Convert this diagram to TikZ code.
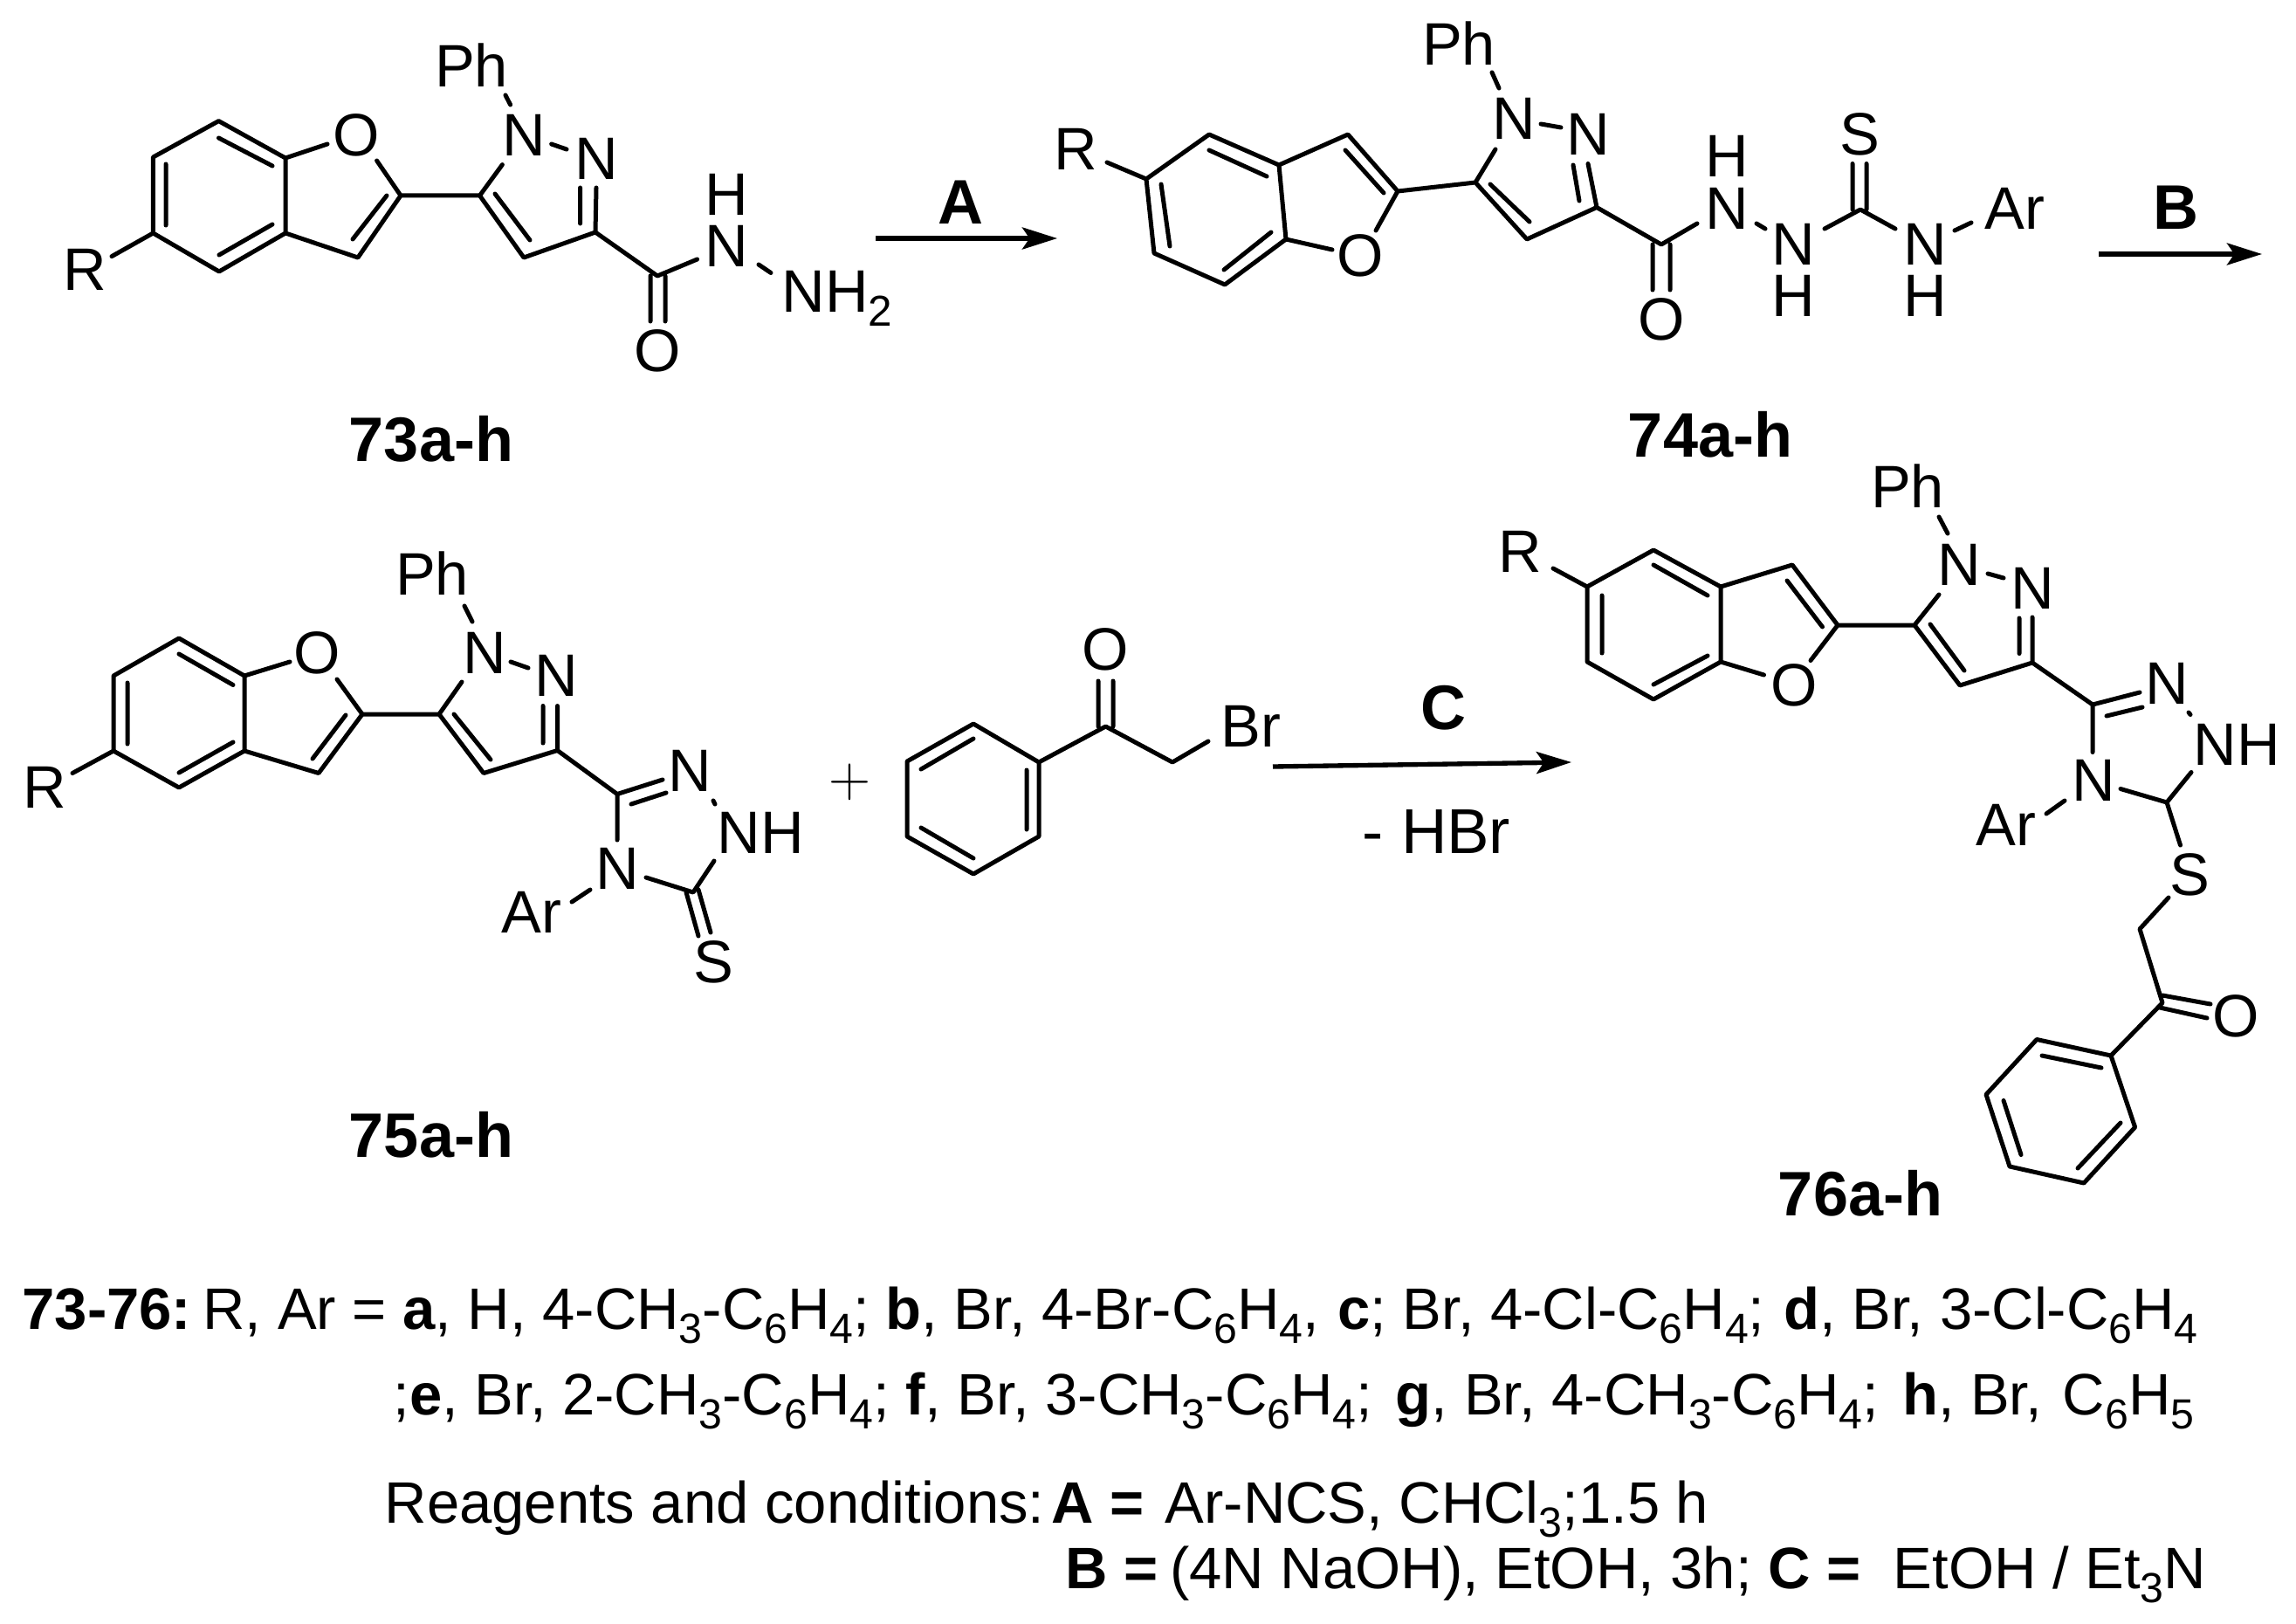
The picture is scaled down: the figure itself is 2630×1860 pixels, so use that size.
\documentclass[tikz,border=0pt]{standalone}
\usepackage{fontspec}
\usepackage{graphicx}
\setmainfont{Liberation Sans}
\newfontfamily\lmplus{Latin Modern Roman}
\usetikzlibrary{arrows.meta}
\newcommand{\sbs}[1]{\raisebox{-0.24em}{\scalebox{0.72}{#1}}}
\tikzset{
  bond/.style={line width=1.5pt,line cap=round,line join=round,black},
  rxn/.style={line width=1.6pt,-{Stealth[length=12pt,width=7.5pt,inset=2.5pt]}},
  atom/.style={inner sep=0pt,font=\fontsize{20.6}{24}\selectfont},
  atomb/.style={atom,anchor=base west},
  cmpd/.style={inner sep=0pt,font=\fontsize{21.6}{25}\selectfont\bfseries},
  cond/.style={inner sep=0pt,anchor=base west,font=\fontsize{20.1}{24}\selectfont}
}
\begin{document}
\begin{tikzpicture}[x=0.3pt,y=-0.3pt]
\useasboundingbox (0,0) rectangle (2630,1860);
% ---------- 73
\draw[bond] (250.5,138.6)--(175.4,180)--(175.4,267)--(251,311)--(327,267)--(327,181)--cycle
 (190,188)--(190,258) (250.5,158)--(312,190) (251,292)--(312,257)
 (327,181)--(375,165) (431.6,184)--(459,224)--(410,295)--(327,267)
 (443,224)--(404,274) (128,293.6)--(175.4,267)
 (459,224)--(549.5,224)--(575.4,188.6) (549.5,224)--(600,295)--(682,266)--(683,215)
 (567,222)--(607,275) (664.6,215)--(664.6,256) (631.6,165)--(649,171) (579,109)--(584.6,120)
 (682,266)--(753,316)--(798.6,297) (745,316)--(745,368) (762,316)--(762,368) (869,303)--(883,312.5);
\node[atom] (r73) at (97,309) {R};
\node[atom] (o73) at (408,155) {O};
\node[atom] (ph73) at (540,75) {Ph};
\node[atom] (n73a) at (600,155) {N};
\node[atom] (n73b) at (683,182) {N};
\node[atom] (h73) at (832,223) {H};
\node[atom] (n73c) at (832,282) {N};
\node[atom] (oc73) at (753,402) {O};
\node[atomb] (nh73) at (895,357) {NH\sbs{2}};
\node[cmpd] (l73) at (494,503) {73a-h};
% arrow A
\coordinate (a1) at (1003,273); \coordinate (a2) at (1211,273);
\draw[rxn] (a1)--(a2);
\node[cmpd] (la) at (1100,232) {A};
% ---------- 74
\draw[bond] (1313,205)--(1385,154)--(1465,189)--(1473,274)--(1403,326)--(1322,290)--cycle
 (1330,211)--(1340,282) (1385,172)--(1451,202) (1402,309)--(1456,266) (1268,186)--(1313,205)
 (1465,189)--(1544,154)--(1601,219)--(1576,264) (1473,274)--(1526,286) (1541,172)--(1585,221)
 (1601,219)--(1690,209)--(1713,171) (1690,209)--(1749,274)--(1829,237.5)--(1819,187.5)
 (1707,211)--(1752,254) (1802,189)--(1809,230) (1765,142)--(1788,146) (1709,83)--(1717,101)
 (1829,237.5)--(1903,280)--(1944,256) (1893,280)--(1893,332) (1913,280)--(1913,332)
 (2012,256)--(2022,262) (2090,262)--(2131,240)--(2171,262) (2122,187.5)--(2122,240) (2138,187.5)--(2138,240)
 (2239,264)--(2258,255);
\node[atom] (r74) at (1232,171) {R};
\node[atom] (o74) at (1558.5,293) {O};
\node[atom] (ph74) at (1671,50) {Ph};
\node[atom] (n74a) at (1734,136) {N};
\node[atom] (n74b) at (1819,154) {N};
\node[atom] (h74a) at (1978,179) {H};
\node[atom] (n74c) at (1978,239) {N};
\node[atom] (oc74) at (1903,366) {O};
\node[atom] (n74d) at (2054,280) {N};
\node[atom] (h74b) at (2054,339) {H};
\node[atom] (s74) at (2130,154) {S};
\node[atom] (n74e) at (2205,280) {N};
\node[atom] (h74c) at (2205,339) {H};
\node[atom] (ar74) at (2308,239) {Ar};
\node[cmpd] (l74) at (1959,498) {74a-h};
% arrow B
\coordinate (b1) at (2404,291); \coordinate (b2) at (2591,291);
\draw[rxn] (b1)--(b2);
\node[cmpd] (lb) at (2492,238) {B};
% ---------- 75
\draw[bond] (130,860)--(130,774)--(205,731)--(280,774)--(280,860)--(205,902)--cycle
 (146,782)--(146,852) (205,749)--(267,784.5) (205,885)--(267,850) (83,885.5)--(130,860)
 (280,774)--(332,758) (386,778)--(415,818)--(365,885.5)--(280,860) (358,869)--(396,819)
 (415,818)--(503,818)--(529,781) (503,818)--(554,885.5)--(638.5,859.5)--(638.5,808.5)
 (520,818)--(562,870) (622,808.5)--(622,851) (585,758)--(605,765) (532,694)--(541,712)
 (638.5,859.5)--(707,909.5)--(759,893) (723,921)--(763,908) (707,909.5)--(707,962)
 (740,1005)--(794,1022)--(818,986) (817,917)--(819,921)
 (786,1022)--(800,1072) (800,1019)--(814,1068) (655,1033)--(676,1019);
\node[atom] (r75) at (51,902) {R};
\node[atom] (o75) at (363,748) {O};
\node[atom] (ph75) at (495,657) {Ph};
\node[atom] (n75a) at (555.5,748) {N};
\node[atom] (n75b) at (637,774) {N};
\node[atom] (n75c) at (790,883) {N};
\node[atomb] (nh75) at (821,977) {NH};
\node[atom] (n75d) at (707,995) {N};
\node[atom] (ar75) at (609,1045) {Ar};
\node[atom] (s75) at (817,1102) {S};
\node[cmpd] (l75) at (494,1300) {75a-h};
\node[inner sep=0pt,font=\fontsize{20}{24}\lmplus] (plus) at (973,896) {+};
% ---------- bromoketone
\draw[bond] (1115,829)--(1039,872)--(1039,958)--(1115,1001)--(1190,958)--(1190,873)--cycle
 (1115,846)--(1055,881) (1055,948)--(1115,983) (1176,882)--(1176,950)
 (1190,873)--(1266.5,832)--(1343,873)--(1384,849) (1258,780)--(1258,832) (1275,780)--(1275,832);
\node[atom] (ok) at (1266,744) {O};
\node[atomb] (br) at (1398,855) {Br};
% arrow C
\coordinate (c1) at (1458,878); \coordinate (c2) at (1800,873);
\draw[rxn] (c1)--(c2);
\node[cmpd] (lc) at (1653,811) {C};
\node[atomb,font=\fontsize{21.8}{25}\selectfont] (hbr) at (1560,977) {- HBr};
% ---------- 76
\draw[bond] (1818,672)--(1894,630)--(1971,672)--(1971,758)--(1894,801)--(1818,758)--cycle
 (1835,682)--(1835,748) (1894,647)--(1956,682) (1894,784)--(1956,751) (1779,651)--(1818,672)
 (1971,672)--(2053,647)--(2105,716)--(2074,756.5) (1971,758)--(2020.5,773) (2047,665)--(2087.5,718)
 (2105,716)--(2193,716)--(2221,681) (2193,716)--(2245,785)--(2328,759)--(2328,707)
 (2211,715)--(2250,768) (2313,708)--(2313,748.5) (2277,657)--(2295,662) (2221,592)--(2231,611)
 (2328,759)--(2397,807)--(2451,793) (2413,820)--(2454,810) (2397,807)--(2397,861.5)
 (2429,903.5)--(2482,919)--(2510,884.5) (2507,816)--(2509,818.5) (2344,932)--(2365,917)
 (2482,919)--(2497.5,968) (2484,1028)--(2451,1064)--(2477,1148.6)--(2418,1209)
 (2477,1140)--(2532,1150) (2474,1154)--(2528,1166)
 (2418,1209)--(2333,1190.5)--(2275,1253.6)--(2302,1336)--(2387,1355)--(2445.6,1291)--cycle
 (2339,1209)--(2407,1223) (2295,1260.5)--(2315,1322.5) (2380,1338)--(2429,1286);
\node[atom] (r76) at (1741,632) {R};
\node[atom] (o76) at (2055,785) {O};
\node[atom] (ph76) at (2185,557) {Ph};
\node[atom] (n76a) at (2244,647) {N};
\node[atom] (n76b) at (2328,674) {N};
\node[atom] (n76c) at (2482,783) {N};
\node[atomb] (nh76) at (2512,876) {NH};
\node[atom] (n76d) at (2398,894) {N};
\node[atom] (ar76) at (2298,945) {Ar};
\node[atom] (s76) at (2508,1002) {S};
\node[atom] (oc76) at (2561,1164) {O};
\node[cmpd] (l76) at (2131,1367) {76a-h};
% ---------- text
\node[cond] (t1) at (25,1522) {\textbf{73-76:}\hspace{-3.5pt} R, Ar = \textbf{a}, H, 4-CH\sbs{3}-C\sbs{6}H\sbs{4}; \textbf{b}, Br, 4-Br-C\sbs{6}H\sbs{4},\hspace{0.7pt} \textbf{c}; Br, 4-Cl-C\sbs{6}H\sbs{4};\hspace{1pt} \textbf{d}, Br, 3-Cl-C\sbs{6}H\sbs{4}};
\node[cond] (t2) at (450,1620) {;\textbf{e}, Br, 2-CH\sbs{3}-C\sbs{6}H\sbs{4}; \textbf{f}, Br, 3-CH\sbs{3}-C\sbs{6}H\sbs{4};\hspace{2.5pt} \textbf{g}, Br, 4-CH\sbs{3}-C\sbs{6}H\sbs{4};\hspace{2.5pt} \textbf{h}, Br,\hspace{1.5pt} C\sbs{6}H\sbs{5}};
\node[cond] (t3) at (440,1744) {Reagents and conditions:\hspace{-5pt} \textbf{A =} \hspace{1.5pt}Ar-NCS, CHCl\sbs{3};1.5 h};
\node[cond] (t4) at (1220,1819) {\textbf{B =} \hspace{-1.5pt}(4N NaOH), EtOH, 3h; \textbf{C =}\ \ EtOH / Et\sbs{3}N};
\end{tikzpicture}
\end{document}
